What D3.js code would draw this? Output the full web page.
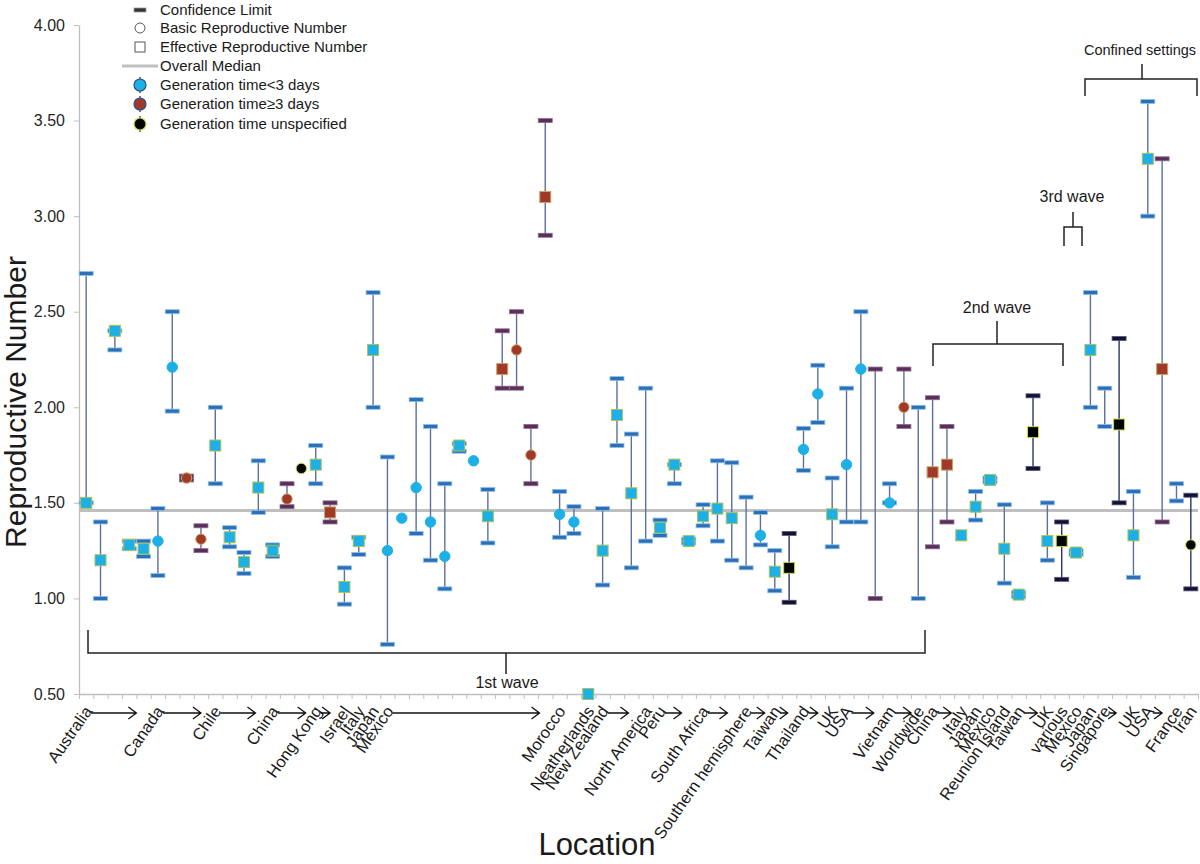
<!DOCTYPE html>
<html><head><meta charset="utf-8">
<script src="https://cdn.jsdelivr.net/npm/d3@7"></script>
<style>body{margin:0;background:#fff}svg{display:block}text{font-family:"Liberation Sans",Arial,sans-serif;fill:#1a1a1a}</style>
</head><body><svg id="c" width="1200" height="864"></svg>
<script>
// ---- data ----
const estimate=[1.50,1.20,2.40,1.28,1.26,1.30,2.21,1.63,1.31,1.80,1.32,1.19,1.58,1.25,1.52,1.68,1.70,1.45,1.06,1.30,
2.30,1.25,1.42,1.58,1.40,1.22,1.80,1.72,1.43,2.20,2.30,1.75,3.10,1.44,1.40,0.50,1.25,1.96,1.55,null,
1.37,1.70,1.30,1.43,1.47,1.42,null,1.33,1.14,1.16,1.78,2.07,1.44,1.70,2.20,null,1.50,2.00,null,1.66,
1.70,1.33,1.48,1.62,1.26,1.02,1.87,1.30,1.30,1.24,2.30,null,1.91,1.33,3.30,2.20,null,1.28];
const lower=[1.50,1.00,2.30,1.26,1.22,1.12,1.98,1.62,1.25,1.60,1.27,1.13,1.45,1.22,1.48,null,1.60,1.40,0.97,1.23,
2.00,0.76,null,1.34,1.20,1.05,1.77,null,1.29,2.10,2.10,1.60,2.90,1.32,1.34,null,1.07,1.80,1.16,1.30,
1.33,1.60,1.29,1.38,1.30,1.20,1.16,1.28,1.04,0.98,1.67,1.92,1.27,1.40,1.40,1.00,1.50,1.90,1.00,1.27,
1.40,null,1.41,1.61,1.08,1.01,1.68,1.20,1.10,1.23,2.00,1.90,1.50,1.11,3.00,1.40,1.51,1.05];
const upper=[2.70,1.40,2.40,1.30,1.30,1.47,2.50,1.64,1.38,2.00,1.37,1.24,1.72,1.28,1.60,null,1.80,1.50,1.16,1.32,
2.60,1.74,null,2.04,1.90,1.60,1.81,null,1.57,2.40,2.50,1.90,3.50,1.56,1.48,null,1.47,2.15,1.86,2.10,
1.41,1.70,1.31,1.49,1.72,1.71,1.53,1.45,1.25,1.34,1.89,2.22,1.63,2.10,2.50,2.20,1.60,2.20,2.00,2.05,
1.90,null,1.56,1.63,1.49,1.03,2.06,1.50,1.40,1.25,2.60,2.10,2.36,1.56,3.60,3.30,1.60,1.54];
// s = effective (square), o = basic (circle), "" = no marker
const shape=["s","s","s","s","s","o","o","o","o","s","s","s","s","s","o","o","s","s","s","s",
"s","o","o","o","o","o","s","o","s","s","o","o","s","o","o","s","s","s","s","",
"s","s","s","s","s","s","","o","s","s","o","o","s","o","o","","o","o","","s",
"s","s","s","s","s","s","s","s","s","s","s","","s","s","s","s","","o"];
// c = generation time <3 days, b = >=3 days, k = unspecified
const gen=["c","c","c","c","c","c","c","b","b","c","c","c","c","c","b","k","c","b","c","c",
"c","c","c","c","c","c","c","c","c","b","b","b","b","c","c","c","c","c","c","c",
"c","c","c","c","c","c","c","c","c","k","c","c","c","c","c","b","c","b","c","b",
"b","c","c","c","c","c","k","c","k","c","c","c","k","c","c","b","c","k"];
const overallMedian=1.46;
const yTicks=[0.5,1,1.5,2,2.5,3,3.5,4];
const locNames=["Australia","Canada","Chile","China","Hong Kong","Israel","Italy","Japan","Mexico","Morocco","Neatherlands","New Zealand","North America","Peru","South Africa","Southern hemisphere","Taiwan","Thailand","UK","USA","Vietnam","Worldwide","China","Italy","Japan","Mexico","Reunion Island","Taiwan","UK","various","Mexico","Japan","Singapore","UK","USA","France","Iran"];
const locBand=[0,5,9,13,16,18,19,20,21,33,35,36,39,40,43,46,48,50,52,53,56,58,59,61,62,63,64,65,67,68,69,70,71,73,74,76,77];
const locArrowTo=[3.5,8,11.8,15.3,17,null,null,null,31.6,null,null,37.8,null,41.5,44.7,47.3,48.9,51,null,54.9,57.5,null,60.3,null,null,null,null,66.3,null,null,null,null,71.8,null,75,null,null];
const legendItems=["Confidence Limit","Basic Reproductive Number","Effective Reproductive Number","Overall Median","Generation time<3 days","Generation time\u22653 days","Generation time unspecified"];

// ---- styles ----
const fillC={c:"#1DB0E6",b:"#A0382B",k:"#050505"};
const edgeC={c:"#A9C25A",b:"#C9A45C",k:"#C8DA4A"};
const capFill={c:"#2C6FB7",b:"#5A2D5A",k:"#111133"};
const capEdge={c:"#8CC0EC",b:"#8B6C8B",k:"#55557a"};

const svg=d3.select("#c");
const n=estimate.length;
const x=d3.scaleBand().domain(d3.range(n)).range([79,1198]);
const xc=i=>x(i)+x.bandwidth()/2;
const xf=d3.scaleLinear().domain([-0.5,n-0.5]).range([79,1198]);
const y=d3.scaleLinear().domain([0.5,4]).range([694,25]);

// axes
const ya=svg.append("g").attr("transform","translate(79,0)")
 .call(d3.axisLeft(y).tickValues(yTicks).tickFormat(d3.format(".2f")).tickSize(5).tickSizeOuter(0).tickPadding(9));
ya.select(".domain").attr("stroke","#BFBFBF").attr("stroke-width",1.3);
ya.selectAll(".tick line").attr("stroke","#BFBFBF");
ya.selectAll(".tick text").attr("font-size",16).style("fill","#262626");
const xb=d3.scaleLinear().domain([0,n]).range([79,1198]);
const xa=svg.append("g").attr("transform","translate(0,694)")
 .call(d3.axisBottom(xb).tickValues(d3.range(n+1)).tickFormat("").tickSize(5).tickSizeOuter(0));
xa.select(".domain").attr("stroke","#BFBFBF").attr("stroke-width",1.3);
xa.selectAll(".tick line").attr("stroke","#BFBFBF");

// median
svg.append("line").attr("x1",79).attr("x2",1198).attr("y1",y(overallMedian)).attr("y2",y(overallMedian))
 .attr("stroke","#BFBFBF").attr("stroke-width",3);

// error bars
const idx=d3.range(n);
const eb=idx.filter(i=>lower[i]!=null);
svg.append("g").selectAll("line").data(eb).join("line")
 .attr("x1",xc).attr("x2",xc).attr("y1",i=>y(lower[i])).attr("y2",i=>y(upper[i]))
 .attr("stroke",i=>gen[i]==="k"?"#2B3560":"#5D6F9C").attr("stroke-width",1.4);
const caps=[];eb.forEach(i=>{caps.push({i,v:lower[i]});caps.push({i,v:upper[i]});});
svg.append("g").selectAll("rect").data(caps).join("rect")
 .attr("x",d=>xc(d.i)-7).attr("y",d=>y(d.v)-2).attr("width",14).attr("height",4)
 .attr("fill",d=>capFill[gen[d.i]]).attr("stroke",d=>capEdge[gen[d.i]]).attr("stroke-width",0.8);

// markers
const mk=idx.filter(i=>estimate[i]!=null&&shape[i]);
svg.append("g").selectAll("rect").data(mk.filter(i=>shape[i]==="s")).join("rect")
 .attr("x",i=>xc(i)-5.5).attr("y",i=>y(estimate[i])-5.5).attr("width",11).attr("height",11)
 .attr("fill",i=>fillC[gen[i]]).attr("stroke",i=>edgeC[gen[i]]).attr("stroke-width",1);
svg.append("g").selectAll("circle").data(mk.filter(i=>shape[i]==="o")).join("circle")
 .attr("cx",xc).attr("cy",i=>y(estimate[i])).attr("r",5.2)
 .attr("fill",i=>fillC[gen[i]]).attr("stroke",i=>gen[i]==="c"?"#1DB0E6":edgeC[gen[i]]).attr("stroke-width",1);

// x labels and arrows
const lg=svg.append("g");
locNames.forEach((name,k)=>{
  const px=xf(locBand[k]);
  lg.append("text").attr("text-anchor","end").attr("font-size",16.5)
    .attr("transform",`translate(${px+2},${708}) rotate(-55)`).attr("dy","0.35em").text(name);
  if(locArrowTo[k]!=null){
    const x1=xf(locArrowTo[k]);
    lg.append("path").attr("d",`M${px+5},713H${x1}M${x1-8},707L${x1},713L${x1-8},719`)
      .attr("fill","none").attr("stroke","#111").attr("stroke-width",1.3);
  }
});

// brackets
const br=svg.append("g").attr("fill","none").attr("stroke","#222").attr("stroke-width",1.5);
br.append("path").attr("d","M88,630V653H925V630M506,653V674");
br.append("path").attr("d","M933,366V344H1063V366M997,344V321");
br.append("path").attr("d","M1064,246V227H1082V246M1073,227V212");
br.append("path").attr("d","M1085,96V79H1197V96M1142,79V64");
const at=svg.append("g").attr("font-size",16).attr("text-anchor","middle");
at.append("text").attr("x",507).attr("y",688).text("1st wave");
at.append("text").attr("x",997).attr("y",313).text("2nd wave");
at.append("text").attr("x",1072).attr("y",202).text("3rd wave");
at.append("text").attr("x",1140).attr("y",55).attr("font-size",14.5).text("Confined settings");

// axis titles
svg.append("text").attr("transform","translate(26,402) rotate(-90)").attr("text-anchor","middle")
 .attr("font-size",30).text("Reproductive Number");
svg.append("text").attr("x",597).attr("y",855).attr("text-anchor","middle").attr("font-size",31).text("Location");

// legend
const L=svg.append("g");
const ly=[10,28,47,66,85,104,124];
legendItems.forEach((t,k)=>{
  L.append("text").attr("x",160).attr("y",ly[k]).attr("dy","0.35em").attr("font-size",15).text(t);
});
L.append("rect").attr("x",134).attr("y",ly[0]-2).attr("width",12).attr("height",4).attr("fill","#333").attr("stroke","#999").attr("stroke-width",0.8);
L.append("circle").attr("cx",140).attr("cy",ly[1]).attr("r",5).attr("fill","#fff").attr("stroke","#555");
L.append("rect").attr("x",135).attr("y",ly[2]-5).attr("width",10).attr("height",10).attr("fill","#fff").attr("stroke","#555");
L.append("line").attr("x1",122).attr("x2",158).attr("y1",ly[3]).attr("y2",ly[3]).attr("stroke","#BFBFBF").attr("stroke-width",3);
[["c",4],["b",5],["k",6]].forEach(([g,k])=>{
  L.append("line").attr("x1",140).attr("x2",140).attr("y1",ly[k]-8).attr("y2",ly[k]+8).attr("stroke","#2B3560").attr("stroke-width",1.3);
  L.append("circle").attr("cx",140).attr("cy",ly[k]).attr("r",6).attr("fill",fillC[g])
   .attr("stroke",g==="k"?edgeC.k:"#2E4F80").attr("stroke-width",1.2);
});
</script></body></html>
